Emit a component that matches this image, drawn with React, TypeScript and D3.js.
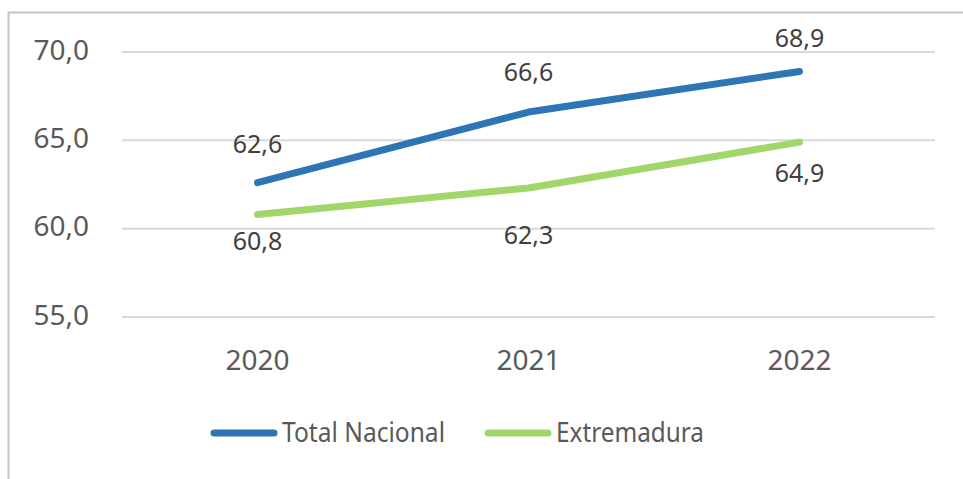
import React, { useEffect, useRef } from 'react';
import * as d3 from 'd3';

const years = ['2020', '2021', '2022'];
const totalNacional = [62.6, 66.6, 68.9];
const extremadura = [60.8, 62.3, 64.9];
const yTicks = [55, 60, 65, 70];
const seriesNames = ['Total Nacional', 'Extremadura'];

// vertical label offsets (px) from each point, as placed in the original
const totalLabelOffset = [-38, -40, -33];
const extremaduraLabelOffset = [27, 47, 31];

const App: React.FC = () => {
  const svgRef = useRef<SVGSVGElement>(null);

  useEffect(() => {
    if (!svgRef.current) return;
    const svg = d3.select(svgRef.current);
    svg.selectAll('*').remove();

    const font = '"Noto Sans", "Open Sans", sans-serif';
    const textColor = '#595959';

    // outer frame (cropped at right and bottom)
    svg.append('rect')
      .attr('x', 8.5).attr('y', 12.5)
      .attr('width', 1000).attr('height', 1000)
      .attr('fill', 'white')
      .attr('stroke', '#c4c4c4')
      .attr('stroke-width', 2);

    const xScale = d3.scaleBand<string>()
      .domain(years)
      .range([122, 935]);

    const yScale = d3.scaleLinear()
      .domain([55, 70])
      .range([317, 52]);

    const fmt = (v: number) => d3.format('.1f')(v).replace('.', ',');
    const cx = (d: string) => (xScale(d) as number) + xScale.bandwidth() / 2;

    // grid lines
    svg.append('g')
      .selectAll('line')
      .data(yTicks)
      .enter()
      .append('line')
      .attr('x1', 122).attr('x2', 935)
      .attr('y1', d => yScale(d)).attr('y2', d => yScale(d))
      .attr('stroke', '#d9d9d9')
      .attr('stroke-width', 2);

    // y labels
    svg.append('g')
      .selectAll('text')
      .data(yTicks)
      .enter()
      .append('text')
      .attr('x', 89)
      .attr('y', d => yScale(d) - 2)
      .attr('dy', '0.35em')
      .attr('text-anchor', 'end')
      .style('font-family', font)
      .style('font-size', '28px')
      .style('fill', textColor)
      .text(d => fmt(d));

    // x labels
    svg.append('g')
      .selectAll('text')
      .data(years)
      .enter()
      .append('text')
      .attr('x', d => cx(d))
      .attr('y', 360)
      .attr('dy', '0.35em')
      .attr('text-anchor', 'middle')
      .style('font-family', font)
      .style('font-size', '28px')
      .style('fill', textColor)
      .text(d => d);

    const series = [
      { name: seriesNames[0], values: totalNacional, offsets: totalLabelOffset, color: '#2e75b6' },
      { name: seriesNames[1], values: extremadura, offsets: extremaduraLabelOffset, color: '#a1d66b' },
    ];

    const line = d3.line<number>()
      .x((_, i) => cx(years[i]))
      .y(d => yScale(d));

    series.forEach(s => {
      svg.append('path')
        .attr('d', line(s.values))
        .attr('fill', 'none')
        .attr('stroke', s.color)
        .attr('stroke-width', 7)
        .attr('stroke-linecap', 'round')
        .attr('stroke-linejoin', 'round');

      svg.append('g')
        .selectAll('text')
        .data(s.values)
        .enter()
        .append('text')
        .attr('x', (_, i) => cx(years[i]))
        .attr('y', (d, i) => yScale(d) + s.offsets[i])
        .attr('dy', '0.35em')
        .attr('text-anchor', 'middle')
        .style('font-family', font)
        .style('font-size', '25px')
        .style('fill', '#404040')
        .text(d => fmt(d));
    });

    // legend
    const legendX = [211, 485];
    const legendTextWidth = [163, 148];
    const legend = svg.append('g');
    series.forEach((s, i) => {
      legend.append('line')
        .attr('x1', legendX[i] + 3).attr('x2', legendX[i] + 63)
        .attr('y1', 433).attr('y2', 433)
        .attr('stroke', s.color)
        .attr('stroke-width', 7)
        .attr('stroke-linecap', 'round');
      legend.append('text')
        .attr('x', legendX[i] + 71)
        .attr('y', 433)
        .attr('dy', '0.35em')
        .attr('textLength', legendTextWidth[i])
        .attr('lengthAdjust', 'spacingAndGlyphs')
        .style('font-family', font)
        .style('font-size', '27px')
        .style('fill', textColor)
        .text(s.name);
    });
  }, []);

  return (
    <svg
      ref={svgRef}
      width={963}
      height={479}
      style={{ position: 'absolute', left: 0, top: 0, display: 'block' }}
    />
  );
};

export default App;
